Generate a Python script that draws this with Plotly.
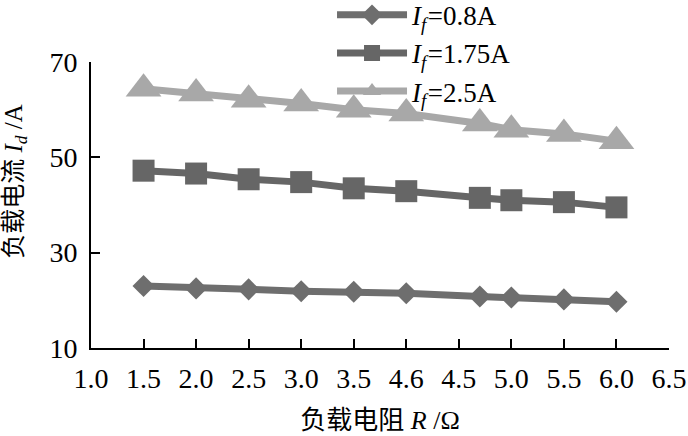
import plotly.graph_objects as go

R = [1.5, 2.0, 2.5, 3.0, 3.5, 4.0, 4.7, 5.0, 5.5, 6.0]
I_08 = [23.0, 22.5, 22.3, 21.9, 21.8, 21.5, 20.8, 20.6, 20.2, 19.7]
I_175 = [47.2, 46.6, 45.4, 44.8, 43.5, 42.9, 41.5, 41.0, 40.6, 39.5]
I_25 = [64.4, 63.4, 62.1, 61.3, 60.0, 59.2, 57.1, 55.8, 54.9, 53.4]

x_tickvals = [1.0, 1.5, 2.0, 2.5, 3.0, 3.5, 4.0, 4.5, 5.0, 5.5, 6.0, 6.5]
x_ticktext = ["1.0", "1.5", "2.0", "2.5", "3.0", "3.5", "4.6", "4.5", "5.0", "5.5", "6.0", "6.5"]
y_tickvals = [10, 30, 50, 70]

names = ["<i>I</i><sub><i>f</i>&#8202;</sub>=0.8A", "<i>I</i><sub><i>f</i>&#8202;</sub>=1.75A", "<i>I</i><sub><i>f</i>&#8202;</sub>=2.5A"]
series = [I_08, I_175, I_25]
colors = ["#6e6e6e", "#666666", "#a8a8a8"]
symbols = ["diamond", "square", "triangle-up"]
sizes = [17, 22, 31]

serif = "Liberation Serif, Noto Sans CJK SC"

fig = go.Figure()
for name, ys, c, s, sz in zip(names, series, colors, symbols, sizes):
    fig.add_trace(go.Scatter(
        x=R, y=ys, name=name, mode="lines+markers",
        line=dict(color=c, width=7),
        marker=dict(symbol=s, size=sz, color=c),
    ))

fig.update_layout(
    width=688, height=436,
    margin=dict(l=91, r=19, t=62, b=88, autoexpand=False),
    paper_bgcolor="white", plot_bgcolor="white",
    font=dict(family=serif, size=24, color="black"),
    legend=dict(
        x=0.417, y=1.249, xanchor="left", yanchor="top",
        bgcolor="rgba(0,0,0,0)",
        font=dict(family=serif, size=27),
        tracegroupgap=0, itemsizing="trace", itemwidth=70,
    ),
    showlegend=True,
)
fig.update_xaxes(
    range=[1.0, 6.5], tickvals=x_tickvals, ticktext=x_ticktext, tickangle=0,
    showgrid=False, zeroline=False, showline=True, linecolor="black", linewidth=2,
    ticks="inside", ticklen=9, tickwidth=2, tickcolor="black",
    tickfont=dict(family=serif, size=28), ticklabelstandoff=4,
    title=dict(text="负载电阻 <i>R</i> /Ω", font=dict(family=serif, size=26), standoff=18),
)
fig.update_yaxes(
    range=[10, 70], tickvals=y_tickvals,
    showgrid=False, zeroline=False, showline=True, linecolor="black", linewidth=2,
    ticks="inside", ticklen=9, tickwidth=2, tickcolor="black",
    tickfont=dict(family=serif, size=28), ticklabelstandoff=6,
)
fig.add_annotation(
    text="负载电流 <i>I</i><sub><i>d</i></sub> /A",
    xref="paper", yref="paper", x=-0.13, y=0.584,
    xanchor="center", yanchor="middle", textangle=-90, showarrow=False,
    font=dict(family=serif, size=25),
)

fig.write_html("out.html", post_script="document.body.style.margin='0';",
               config={"displayModeBar": False})
